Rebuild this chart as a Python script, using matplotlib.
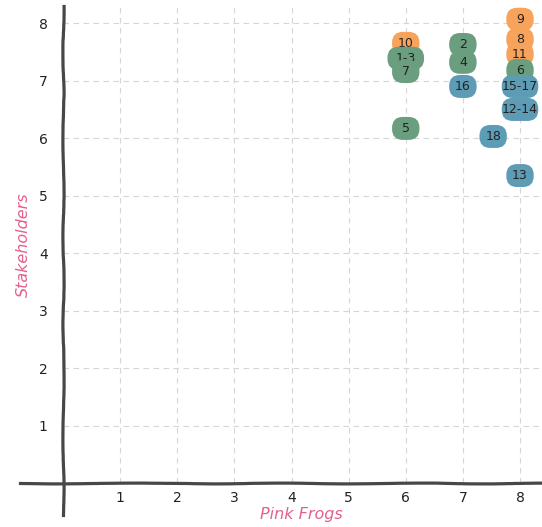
import matplotlib
matplotlib.use('Agg')
import matplotlib.pyplot as plt
from matplotlib.patches import FancyBboxPatch

# Datos de los puntos
labels = ['9', '8', '11', '6', '15-17', '12-14', '13',
          '10', '1-3', '7', '2', '4', '16', '5', '18']
x_vals = [8.0, 8.0, 8.0, 8.0, 8.0, 8.0, 8.0,
          6.0, 6.0, 6.0, 7.0, 7.0, 7.0, 6.0, 7.53]
y_vals = [8.07, 7.72, 7.46, 7.18, 6.9, 6.5, 5.35,
          7.65, 7.39, 7.16, 7.63, 7.32, 6.9, 6.17, 6.03]
groups = ['o', 'o', 'o', 'g', 'b', 'b', 'b',
          'o', 'g', 'g', 'g', 'g', 'b', 'g', 'b']

ticks = [1, 2, 3, 4, 5, 6, 7, 8]
x_label = 'Pink Frogs'
y_label = 'Stakeholders'

colors = {'o': '#F7A35C', 'g': '#6A9E7F', 'b': '#5E9CB5'}
pink = '#E4608A'

fig = plt.figure(figsize=(5.42, 5.27), dpi=100)
ax = fig.add_axes([63 / 542, 44 / 527, (540 - 63) / 542, (483 - 6) / 527])
ax.set_xlim(0, 8.35)
ax.set_ylim(0, 8.3)

for s in ax.spines.values():
    s.set_visible(False)

# Rejilla discontinua
for t in ticks:
    ax.axvline(t, color='#d6d6d6', lw=0.8, dashes=(5, 4), zorder=0)
    ax.axhline(t, color='#d6d6d6', lw=0.8, dashes=(5, 4), zorder=0)

# Ejes dibujados a mano
xa, = ax.plot([-0.75, 8.35], [0, 0], color='#474747', lw=2.3, clip_on=False, zorder=3)
ya, = ax.plot([0, 0], [-0.55, 8.3], color='#474747', lw=2.3, clip_on=False, zorder=3)
xa.set_sketch_params(scale=0.4, length=250, randomness=6)
ya.set_sketch_params(scale=0.6, length=200, randomness=8)

ax.set_xticks(ticks)
ax.set_yticks(ticks)
ax.tick_params(length=0, labelsize=10, labelcolor='#222222')
ax.tick_params(axis='x', pad=6)
ax.tick_params(axis='y', pad=11)

ax.set_xlabel(x_label, color=pink, fontsize=11.5, style='italic', labelpad=1)
ax.set_ylabel(y_label, color=pink, fontsize=11.5, style='italic', labelpad=6)

# Burbujas, dibujadas de arriba abajo para que se solapen como en el original
order = sorted(range(len(labels)), key=lambda i: -y_vals[i])
for z, i in enumerate(order):
    w = 0.48 if len(labels[i]) <= 2 else 0.64
    h = 0.4
    patch = FancyBboxPatch((x_vals[i] - w / 2, y_vals[i] - h / 2), w, h,
                           boxstyle='round,pad=0,rounding_size=0.19',
                           facecolor=colors[groups[i]], edgecolor='none',
                           zorder=4 + z * 0.01)
    ax.add_patch(patch)
    ax.text(x_vals[i], y_vals[i], labels[i], ha='center', va='center',
            fontsize=9, color='#222222', zorder=4 + z * 0.01 + 0.005)

fig.savefig('out.png', dpi=100)
